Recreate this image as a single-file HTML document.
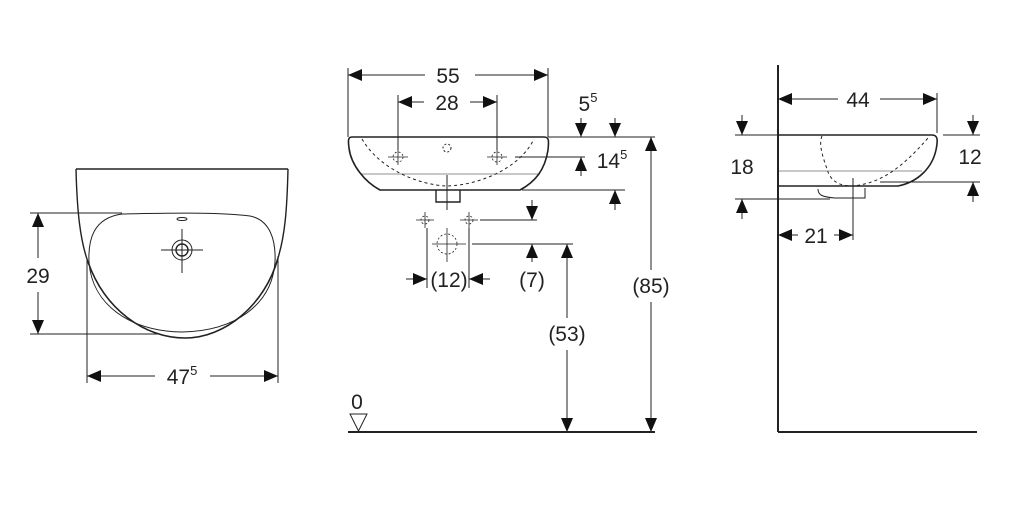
<!DOCTYPE html>
<html><head><style>
html,body{margin:0;padding:0;background:#fff;}
svg{display:block;}
text{font-family:"Liberation Sans",sans-serif;fill:#222;}
</style></head><body>
<svg width="1024" height="521" viewBox="0 0 1024 521" xmlns="http://www.w3.org/2000/svg">
<defs>
<marker id="a" viewBox="0 0 14 12" refX="14" refY="6" markerWidth="14" markerHeight="12" markerUnits="userSpaceOnUse" orient="auto-start-reverse"><path d="M0,0 L14,6 L0,12 z" fill="#111"/></marker>
</defs>
<g stroke="#222" fill="none" stroke-width="1">
<!-- LEFT VIEW -->
<path d="M76,169 L288,169" stroke-width="1.6"/>
<path d="M76,169 C77,210 80,240 88,262" stroke-width="1.4"/>
<path d="M288,169 C287,210 285,235 278,258" stroke-width="1.4"/>
<path d="M88,262 C105,310 145,338 185,338 C225,338 265,305 278,258" stroke-width="1.6"/>
<path d="M122,214 C165,213 220,212 250,216 C270,220 276,240 275,262 C272,305 235,331 182,332 C130,331 92,305 89,262 C88,240 93,218 122,214 Z" stroke-width="1"/>
<ellipse cx="182" cy="219" rx="5" ry="1.5"/>
<circle cx="182" cy="250" r="10"/><circle cx="182" cy="250" r="6" stroke-width="1.4"/>
<path d="M161,250 H203 M182,229 V273"/>
<path d="M30,213 H122 M30,334 H160"/>
<path d="M38,213 V258 M38,292 V334"/>
<path d="M38,226 V213" marker-end="url(#a)"/><path d="M38,321 V334" marker-end="url(#a)"/>
<path d="M87,258 V383 M278,256 V383"/>
<path d="M87,376 H155 M210,376 H278" />
<path d="M100,376 H87" marker-end="url(#a)"/>
<path d="M265,376 H278" marker-end="url(#a)"/>

<!-- MIDDLE VIEW -->
<path d="M348,68 V137 M548,68 V137"/>
<path d="M348,75 H425 M475,75 H548"/>
<path d="M362,75 H348" marker-end="url(#a)"/><path d="M534,75 H548" marker-end="url(#a)"/>
<path d="M398,95 V150 M497,95 V150"/>
<path d="M398,102 H424 M470,102 H497"/>
<path d="M412,102 H398" marker-end="url(#a)"/><path d="M483,102 H497" marker-end="url(#a)"/>
<path d="M352,137 H544 C549,137 549,140 548,150 C545,170 535,182 520,190 H380 C365,182 351,165 349,148 C348,140 348,137 352,137 Z" stroke-width="1.6"/>
<path d="M362,139 C380,170 420,185 447,186 C480,185 520,168 534,139" stroke-dasharray="3,3"/>
<path d="M360,174 H540" stroke-width="0.6"/>
<path d="M436,190 V202 H460 V190" stroke-width="1.4"/>
<path d="M447,175 V210"/>
<circle cx="447" cy="148" r="4" stroke-dasharray="2,2"/>
<g stroke-width="0.8"><circle cx="398" cy="157" r="5" stroke-dasharray="2,2"/><path d="M388,157 H408 M398,149 V165"/>
<circle cx="497" cy="157" r="5" stroke-dasharray="2,2"/><path d="M487,157 H507 M497,149 V165"/>
<circle cx="425" cy="220" r="4" stroke-dasharray="2,2"/><path d="M416,220 H434 M425,212 V228"/>
<circle cx="469" cy="220" r="4" stroke-dasharray="2,2"/><path d="M460,220 H478 M469,212 V228"/>
<circle cx="447" cy="244" r="10" stroke-dasharray="2,2"/><path d="M432,244 H466 M447,228 V262"/></g>
<path d="M548,137 H655 M515,157 H585 M522,190 H625 M480,220 H537 M472,244 H573"/>
<path d="M581,118 V137" marker-end="url(#a)"/><path d="M615,118 V137" marker-end="url(#a)"/>
<path d="M581,176 V157" marker-end="url(#a)"/>
<path d="M615,210 V190" marker-end="url(#a)"/>
<path d="M532,200 V220" marker-end="url(#a)"/>
<path d="M532,262 V244" marker-end="url(#a)"/>
<path d="M427,228 V288 M469,228 V288"/>
<path d="M406,279 H427" marker-end="url(#a)"/><path d="M490,279 H469" marker-end="url(#a)"/>
<path d="M567,244 V318 M567,350 V432"/>
<path d="M567,258 V244" marker-end="url(#a)"/>
<path d="M567,418 V432" marker-end="url(#a)"/>
<path d="M651,137 V270 M651,302 V432"/>
<path d="M651,151 V137" marker-end="url(#a)"/><path d="M651,418 V432" marker-end="url(#a)"/>
<path d="M348,432 H655" stroke-width="2"/>
<path d="M350,414 H367 L358.5,431 Z"/>

<!-- RIGHT VIEW -->
<path d="M778,65 V432" stroke-width="2"/>
<path d="M778,432 H977" stroke-width="2"/>
<path d="M937,93 V133"/>
<path d="M778,99 H838 M880,99 H937"/>
<path d="M792,99 H778" marker-end="url(#a)"/><path d="M923,99 H937" marker-end="url(#a)"/>
<path d="M778,135 H932 C938,135 938,140 936,150 C932,168 918,182 898,186 H778" stroke-width="1.6"/>
<path d="M822,136 C818,145 824,160 828,172 C832,182 840,186 853,186 C880,183 900,170 928,138" stroke-dasharray="3,3"/>
<path d="M778,171 H922" stroke-width="0.6"/>
<path d="M818,189 C818,195 822,197 835,198 H865 V188"/>
<path d="M853,178 V240"/>
<path d="M735,135 H778 M735,199 H830 M943,135 H980 M880,182 H980"/>
<path d="M742,115 V135" marker-end="url(#a)"/>
<path d="M742,219 V199" marker-end="url(#a)"/>
<path d="M973,115 V135" marker-end="url(#a)"/>
<path d="M973,202 V182" marker-end="url(#a)"/>
<path d="M778,235 H798 M834,235 H853"/>
<path d="M792,235 H778" marker-end="url(#a)"/><path d="M839,235 H853" marker-end="url(#a)"/>
</g>
<g font-size="21" text-anchor="middle">
<text x="38" y="283">29</text>
<text x="182" y="384">47<tspan font-size="13" dy="-9">5</tspan></text>
<text x="448" y="83">55</text>
<text x="447" y="110">28</text>
<text x="588" y="111">5<tspan font-size="13" dy="-9">5</tspan></text>
<text x="612" y="168">14<tspan font-size="13" dy="-9">5</tspan></text>
<text x="449" y="287">(12)</text>
<text x="532" y="287">(7)</text>
<text x="567" y="341">(53)</text>
<text x="651" y="293">(85)</text>
<text x="357" y="409">0</text>
<text x="858" y="107">44</text>
<text x="742" y="174">18</text>
<text x="970" y="164">12</text>
<text x="816" y="243">21</text>
</g>
</svg>
</body></html>
